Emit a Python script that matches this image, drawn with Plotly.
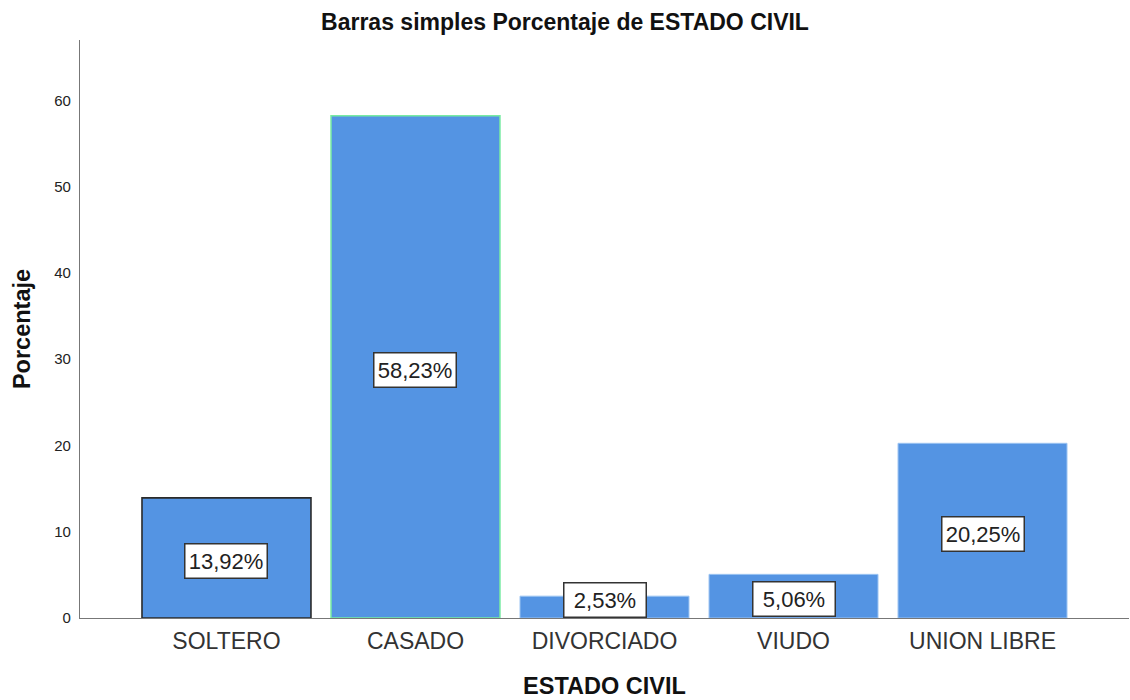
import plotly.graph_objects as go

categories = ["SOLTERO", "CASADO", "DIVORCIADO", "VIUDO", "UNION LIBRE"]
percentages = [13.92, 58.23, 2.53, 5.06, 20.25]
y_ticks = [0, 10, 20, 30, 40, 50, 60]

bar_fill = "#5494E3"
edge_colors = ["#2a2a2a", "#78EBA2", "#9CC4F2", "#9CC4F2", "#9CC4F2"]
edge_widths = [1.6, 1.5, 1, 1, 1]
FONT = "Liberation Sans, Arial, sans-serif"

fig = go.Figure()
fig.add_trace(go.Bar(
    x=list(range(len(categories))),
    y=percentages,
    width=0.894,
    marker=dict(color=bar_fill, line=dict(color=edge_colors, width=edge_widths)),
    hoverinfo="skip",
))

for i, v in enumerate(percentages):
    fig.add_annotation(
        x=i, y=max(v / 2, 2.4), xref="x", yref="y",
        text=f"{v:.2f}%".replace(".", ","),
        showarrow=False, yshift=-3,
        font=dict(family=FONT, size=22, color="#222"),
        bgcolor="white", bordercolor="#333", borderwidth=1.5, borderpad=1,
        width=79, height=31,
        xanchor="center", yanchor="middle",
    )

fig.update_layout(
    width=1130, height=700,
    margin=dict(l=80, r=1, t=40, b=82, autoexpand=False),
    paper_bgcolor="white", plot_bgcolor="white",
    showlegend=False,
    title=dict(text="<b>Barras simples Porcentaje de ESTADO CIVIL</b>",
               x=0.5, xanchor="center", y=1 - 22 / 700, yanchor="middle",
               font=dict(family=FONT, size=23, color="#111")),
    font=dict(family=FONT),
)
fig.update_xaxes(
    range=[-0.775, 4.775], automargin=False,
    tickmode="array", tickvals=list(range(len(categories))), ticktext=categories,
    tickfont=dict(size=23, color="#333"),
    showline=True, linecolor="#777", linewidth=1.2,
    showgrid=False, zeroline=False, ticks="", ticklabelstandoff=2,
    title=dict(text="<b>ESTADO CIVIL</b>", font=dict(size=23.5, color="#111"), standoff=24),
)
fig.update_yaxes(
    range=[0, 67], automargin=False,
    tickmode="array", tickvals=y_ticks,
    tickfont=dict(size=15, color="#222"),
    showline=True, linecolor="#777", linewidth=1.2,
    showgrid=False, zeroline=False, ticks="", ticklabelstandoff=5,
    title=dict(text="<b>Porcentaje</b>", font=dict(size=23.5, color="#111"), standoff=16),
)

fig.write_html("out.html", config={"displayModeBar": False},
               post_script="document.body.style.margin='0';")
